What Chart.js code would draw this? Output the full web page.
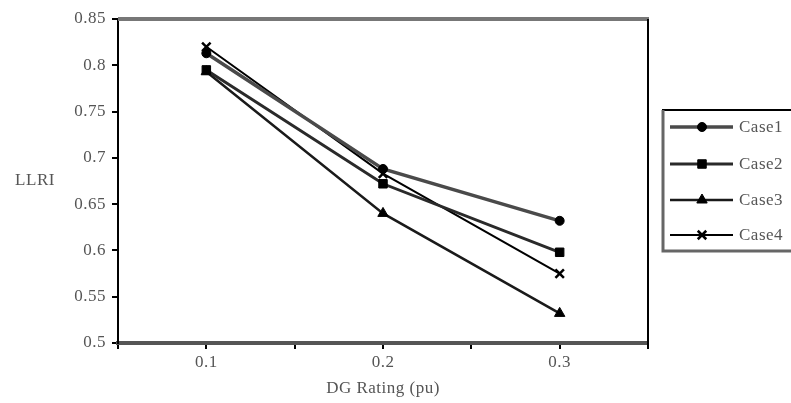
<!DOCTYPE html>
<html>
<head>
<meta charset="utf-8">
<script src="https://cdn.jsdelivr.net/npm/chart.js@4/dist/chart.umd.min.js"></script>
<style>
  html, body { margin: 0; padding: 0; background: #fff; }
  #wrap { width: 791px; height: 403px; }
</style>
</head>
<body>
<div id="wrap"><canvas id="llriChart" width="791" height="403"></canvas></div>
<script>
// values
const ratings = [0.1, 0.2, 0.3];
const case1 = [0.813, 0.688, 0.632];
const case2 = [0.795, 0.672, 0.598];
const case3 = [0.793, 0.640, 0.532];
const case4 = [0.820, 0.683, 0.575];
const caseNames = ['Case1', 'Case2', 'Case3', 'Case4'];
const xLabels = ['0.1', '0.2', '0.3'];

const FONT = { family: '"Liberation Serif", "Times New Roman", serif', size: 17 };
const TEXT = '#555';

function toPoints(vals) {
  return vals.map((v, i) => ({ x: ratings[i], y: v }));
}

const styles = [
  { color: '#4a4a4a', width: 3.5, point: 'circle', r: 4.5 },
  { color: '#2a2a2a', width: 3, point: 'rect', r: 6 },
  { color: '#1a1a1a', width: 2.5, point: 'triangle', r: 6 },
  { color: '#000', width: 2, point: 'crossRot', r: 6 }
];

const datasets = [case1, case2, case3, case4].map((vals, i) => ({
  label: caseNames[i],
  data: toPoints(vals),
  showLine: true,
  borderColor: styles[i].color,
  borderWidth: styles[i].width,
  pointStyle: styles[i].point,
  pointRadius: styles[i].r,
  pointBackgroundColor: '#000',
  pointBorderColor: '#000',
  pointBorderWidth: i === 3 ? 2.5 : 1
}));

// text spacing, frame and legend box
const paperLook = {
  id: 'paperLook',
  beforeDraw(chart) {
    chart.ctx.letterSpacing = '0.5px';
  },
  afterDraw(chart) {
    const ctx = chart.ctx;
    const a = chart.chartArea;
    ctx.save();
    // top and right frame
    ctx.strokeStyle = '#777';
    ctx.lineWidth = 4;
    ctx.beginPath();
    ctx.moveTo(a.left, a.top);
    ctx.lineTo(a.right + 1, a.top);
    ctx.stroke();
    ctx.strokeStyle = '#000';
    ctx.lineWidth = 2;
    ctx.beginPath();
    ctx.moveTo(a.right, a.top);
    ctx.lineTo(a.right, a.bottom + 6);
    ctx.stroke();

    // axis titles
    ctx.fillStyle = TEXT;
    ctx.font = `${FONT.size}px ${FONT.family}`;
    ctx.textAlign = 'center';
    ctx.textBaseline = 'middle';
    ctx.fillText('LLRI', 35, 181);
    ctx.fillText('DG Rating (pu)', (a.left + a.right) / 2, 389);

    // legend
    const bx = 663, by = 110, bw = 140, bh = 141;
    ctx.fillStyle = '#fff';
    ctx.fillRect(bx, by, bw, bh);
    ctx.strokeStyle = '#000';
    ctx.lineWidth = 2;
    ctx.strokeRect(bx, by, bw, bh);
    ctx.strokeStyle = '#666';
    ctx.lineWidth = 3;
    ctx.beginPath();
    ctx.moveTo(bx, by);
    ctx.lineTo(bx, by + bh);
    ctx.lineTo(bx + bw, by + bh);
    ctx.stroke();

    const rowY = [127, 164, 200, 235];
    chart.data.datasets.forEach((ds, i) => {
      const y = rowY[i];
      ctx.strokeStyle = ds.borderColor;
      ctx.lineWidth = ds.borderWidth;
      ctx.beginPath();
      ctx.moveTo(670, y);
      ctx.lineTo(733, y);
      ctx.stroke();
      ctx.fillStyle = '#000';
      ctx.strokeStyle = '#000';
      ctx.lineWidth = ds.pointBorderWidth;
      Chart.helpers.drawPoint(ctx, {
        pointStyle: ds.pointStyle,
        radius: ds.pointRadius,
        rotation: 0,
        borderWidth: ds.pointBorderWidth
      }, 702, y);
      ctx.fillStyle = TEXT;
      ctx.textAlign = 'left';
      ctx.fillText(ds.label, 739, y + 1);
    });
    ctx.restore();
  }
};

new Chart(document.getElementById('llriChart').getContext('2d'), {
  type: 'scatter',
  data: { datasets: datasets },
  options: {
    responsive: false,
    animation: false,
    devicePixelRatio: 1,
    layout: { padding: { top: 19, right: 143, left: 0, bottom: 0 } },
    plugins: {
      legend: { display: false },
      tooltip: { enabled: false }
    },
    scales: {
      x: {
        type: 'linear',
        min: 0.05,
        max: 0.35,
        afterFit: s => { s.height = 60; },
        afterBuildTicks: s => {
          s.ticks = [0.05, 0.1, 0.15, 0.2, 0.25, 0.3, 0.35].map(v => ({ value: v }));
        },
        ticks: {
          font: FONT,
          color: TEXT,
          padding: 3,
          maxRotation: 0,
          autoSkip: false,
          callback: v => {
            const k = Math.round(v * 100);
            return k % 10 === 0 ? xLabels[k / 10 - 1] || '' : '';
          }
        },
        grid: { drawOnChartArea: false, drawTicks: true, tickLength: 6, color: '#000', lineWidth: 2 },
        border: { display: true, color: '#555', width: 4 }
      },
      y: {
        min: 0.5,
        max: 0.85,
        afterFit: s => { s.width = 118; },
        ticks: {
          stepSize: 0.05,
          font: FONT,
          color: TEXT,
          padding: 6,
          callback: v => String(Number(v.toFixed(2)))
        },
        grid: { drawOnChartArea: false, drawTicks: true, tickLength: 6, color: '#000', lineWidth: 2 },
        border: { display: true, color: '#000', width: 2 }
      }
    }
  },
  plugins: [paperLook]
});
</script>
</body>
</html>
